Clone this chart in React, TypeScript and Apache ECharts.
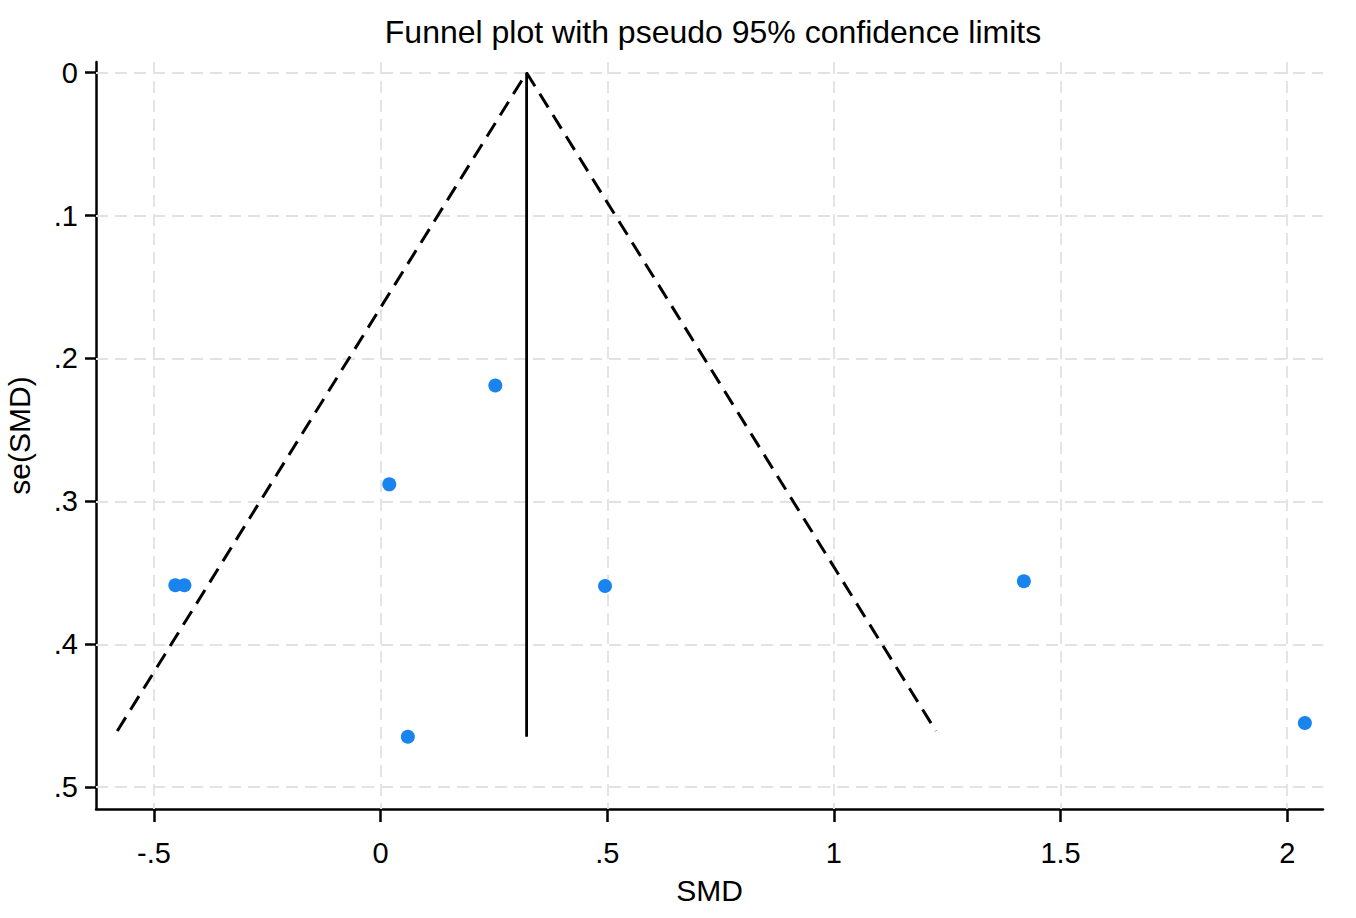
import React, { useEffect, useRef } from "react";
import * as echarts from "echarts";

// study effects (SMD) and their standard errors
const smd = [-0.453, -0.433, 0.019, 0.253, 0.06, 0.495, 1.419, 2.039];
const seSmd = [0.3587, 0.3587, 0.2881, 0.2189, 0.4647, 0.3592, 0.3559, 0.4551];

// pooled estimate and funnel (pseudo 95% limits)
const pooled = 0.322;
const funnelLeft = [-0.581, 0.4607];
const funnelRight = [1.225, 0.4607];
const pooledBottomSe = 0.4647;

const xTicks = [-0.5, 0, 0.5, 1, 1.5, 2];
const yTicks = [0, 0.1, 0.2, 0.3, 0.4, 0.5];

const FONT = "'Liberation Sans', Arial, Helvetica, sans-serif";

function fmt(v: number) {
  const s = String(+Number(v).toFixed(1));
  return s.replace(/^(-?)0\./, "$1.");
}

function App() {
  const chartRef = useRef<HTMLDivElement>(null);

  // eslint-disable-next-line consistent-return
  useEffect(() => {
    if (chartRef.current) {
      const chart = echarts.init(chartRef.current, undefined, { renderer: "svg" });
      const gridLine = { color: "#e2e2e2", width: 1.8, type: [12, 7] as number[] };
      const options: echarts.EChartsOption = {
        animation: false,
        backgroundColor: "#ffffff",
        title: {
          text: "Funnel plot with pseudo 95% confidence limits",
          left: 708,
          textAlign: "center",
          top: 11,
          textStyle: { fontFamily: FONT, fontSize: 32, fontWeight: "normal", color: "#000" },
        },
        grid: { left: 96, right: 33, top: 62, bottom: 109, outerBoundsMode: "none" } as any,
        xAxis: {
          type: "value",
          min: -0.628,
          max: 2.079,
          name: "SMD",
          nameLocation: "middle",
          nameGap: 66,
          nameTextStyle: { fontFamily: FONT, fontSize: 30, color: "#000" },
          axisLine: { show: true, onZero: false, lineStyle: { color: "#000", width: 2.5 } },
          axisTick: { show: true, customValues: xTicks, length: 13, lineStyle: { color: "#000", width: 2.5 } },
          axisLabel: {
            customValues: xTicks,
            formatter: (v: number) => fmt(v),
            margin: 29,
            fontFamily: FONT,
            fontSize: 29,
            color: "#000",
          },
          splitLine: { show: false },
        },
        yAxis: {
          type: "value",
          inverse: true,
          min: -0.0075,
          max: 0.5153,
          name: "se(SMD)",
          nameLocation: "middle",
          nameRotate: 90,
          nameGap: 62,
          nameTextStyle: { fontFamily: FONT, fontSize: 30, color: "#000" },
          axisLine: { show: true, onZero: false, lineStyle: { color: "#000", width: 2.5 } },
          axisTick: { show: true, customValues: yTicks, length: 11, lineStyle: { color: "#000", width: 2.5 } },
          axisLabel: {
            customValues: yTicks,
            formatter: (v: number) => fmt(v),
            margin: 18,
            fontFamily: FONT,
            fontSize: 29,
            color: "#000",
          },
          splitLine: { show: false },
        },
        series: [
          {
            type: "scatter",
            name: "grid",
            data: [],
            silent: true,
            markLine: {
              silent: true,
              symbol: "none",
              z: 1,
              label: { show: false },
              lineStyle: gridLine,
              data: [
                ...xTicks.map((v) => ({ xAxis: v })),
                ...yTicks.map((v) => ({ yAxis: v })),
              ],
            },
          },
          {
            type: "line",
            name: "limits",
            z: 3,
            symbol: "none",
            silent: true,
            data: [funnelLeft, [pooled, 0], funnelRight],
            lineStyle: { color: "#000", width: 3, type: [16, 9] },
          },
          {
            type: "line",
            name: "pooled",
            z: 3,
            symbol: "none",
            silent: true,
            data: [
              [pooled, 0],
              [pooled, pooledBottomSe],
            ],
            lineStyle: { color: "#000", width: 2.8 },
          },
          {
            type: "scatter",
            name: "studies",
            z: 4,
            symbol: "circle",
            symbolSize: 14,
            itemStyle: { color: "#1a84ee", opacity: 1 },
            data: smd.map((x, i) => [x, seSmd[i]]),
          },
        ],
      };
      chart.setOption(options);
      return () => {
        chart.dispose();
      };
    }
  }, []);

  return (
    <div
      ref={chartRef}
      style={{ position: "fixed", left: 0, top: 0, width: "1356px", height: "918px", background: "#fff" }}
    />
  );
}

export default App;
